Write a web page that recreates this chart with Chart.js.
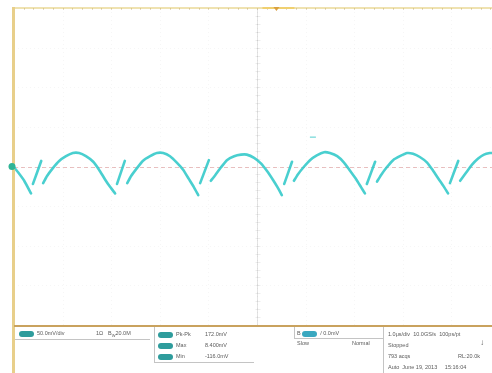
<!DOCTYPE html>
<html>
<head>
<meta charset="utf-8">
<script src="https://cdn.jsdelivr.net/npm/chart.js@4/dist/chart.umd.min.js"></script>
<style>
  html,body{margin:0;padding:0;background:#fff;}
  #wrap{position:relative;width:492px;height:373px;overflow:hidden;font-family:"Liberation Sans","DejaVu Sans",sans-serif;}
  canvas{position:absolute;left:0;top:0;filter:blur(0.35px);}
  .panel{position:absolute;color:#5a5a5a;font-size:5.5px;line-height:6px;white-space:nowrap;filter:blur(0.4px);}
  .pill{display:inline-block;width:15px;height:6px;border-radius:3px;background:#2e9c9c;vertical-align:middle;margin-right:3px;}
  .box{position:absolute;border-color:#c4c4c4;border-style:solid;border-width:0;}
</style>
</head>
<body>
<div id="wrap">
<canvas id="c" width="492" height="373"></canvas>

<!-- status panel -->
<div class="box" style="left:15px;top:327px;width:135px;height:12px;border-bottom-width:1px;"></div>
<div class="panel" style="left:19px;top:330px;"><span class="pill"></span>50.0mV/div</div>
<div class="panel" style="left:96px;top:330px;">1Ω</div>
<div class="panel" style="left:108px;top:330px;">B<sub style="font-size:4px">W</sub>20.0M</div>

<div class="box" style="left:154px;top:327px;width:99px;height:35px;border-left-width:1px;border-bottom-width:1px;"></div>
<div class="panel" style="left:158px;top:331px;"><span class="pill"></span>Pk-Pk</div>
<div class="panel" style="left:205px;top:331px;">172.0mV</div>
<div class="panel" style="left:158px;top:342px;"><span class="pill"></span>Max</div>
<div class="panel" style="left:205px;top:342px;">8.400mV</div>
<div class="panel" style="left:158px;top:353px;"><span class="pill"></span>Min</div>
<div class="panel" style="left:205px;top:353px;">-116.0mV</div>

<div class="box" style="left:294px;top:327px;width:88px;height:11px;border-left-width:1px;border-bottom-width:1px;"></div>
<div class="panel" style="left:297px;top:330px;">B <span class="pill" style="background:#3aa8c0"></span>/ 0.0mV</div>
<div class="panel" style="left:297px;top:340px;">Slow</div>
<div class="panel" style="left:352px;top:340px;">Normal</div>

<div class="box" style="left:383px;top:327px;width:109px;height:46px;border-left-width:1px;"></div>
<div class="panel" style="left:388px;top:331px;">1.0μs/div&nbsp;&nbsp;10.0GS/s&nbsp;&nbsp;100ps/pt</div>
<div class="panel" style="left:388px;top:342px;">Stopped</div>
<div class="panel" style="left:480px;top:340px;font-size:8px;">↓</div>
<div class="panel" style="left:388px;top:353px;">793 acqs</div>
<div class="panel" style="left:458px;top:353px;">RL:20.0k</div>
<div class="panel" style="left:388px;top:364px;">Auto&nbsp;&nbsp;June 19, 2013&nbsp;&nbsp;&nbsp;&nbsp;&nbsp;15:16:04</div>
</div>

<script>
// ---- data (time in μs, 1 μs/div; channel 1 in mV, 50 mV/div) ----
const timeUs = [
  0.00, 0.08, 0.21, 0.35,
  0.37, 0.39, 0.56, 0.58,
  0.60, 0.68, 0.80, 0.93, 1.07, 1.21, 1.34, 1.48, 1.63, 1.75, 1.87, 1.98, 2.08,
  2.10, 2.12, 2.28, 2.30,
  2.33, 2.41, 2.53, 2.65, 2.80, 2.94, 3.07, 3.21, 3.35, 3.48, 3.60, 3.70, 3.79,
  3.81, 3.83, 4.01, 4.03,
  4.05, 4.14, 4.26, 4.38, 4.53, 4.67, 4.79, 4.94, 5.08, 5.21, 5.33, 5.43, 5.51,
  5.53, 5.56, 5.72, 5.74,
  5.76, 5.84, 5.97, 6.09, 6.23, 6.38, 6.50, 6.65, 6.79, 6.91, 7.04, 7.14, 7.22,
  7.24, 7.26, 7.43, 7.45,
  7.47, 7.55, 7.67, 7.80, 7.94, 8.09, 8.21, 8.35, 8.50, 8.62, 8.74, 8.85, 8.93,
  8.95, 8.97, 9.14, 9.16,
  9.18, 9.30, 9.42, 9.55, 9.67, 9.79, 9.84
];
const ch1mV = [
  -1, -7, -18, -34,
  null, -22, 7, null,
  -21, -12, -2, 7, 13, 17, 17, 13, 6, -4, -16, -26, -34,
  null, -22, 7, null,
  -21, -12, -2, 7, 13, 17, 17, 13, 5, -4, -16, -26, -36,
  null, -21, 8, null,
  -18, -11, -1, 8, 13, 15, 15, 11, 4, -6, -17, -27, -36,
  null, -22, 6, null,
  -18, -10, 0, 8, 14, 18, 17, 13, 5, -5, -16, -26, -34,
  null, -22, 6, null,
  -19, -11, -1, 8, 13, 17, 16, 12, 5, -5, -16, -26, -34,
  null, -21, 7, null,
  -18, -8, 2, 10, 15, 17, 17
];
const xDivs = [0,1,2,3,4,5,6,7,8,9];
const yDivs = [-200,-150,-100,-50,0,50,100,150,200];
const centerDiv = 5;
const triggerPosUs = 5.4;
const cursorMark = {x: 6.15, y: 37};

const points = timeUs.map((t, i) => ({x: t, y: ch1mV[i]}));

const scopeDecor = {
  id: 'scopeDecor',
  beforeDatasetsDraw(chart) {
    const {ctx, chartArea: a, scales: {x, y}} = chart;
    ctx.save();
    ctx.strokeStyle = 'rgba(0,0,0,0.035)';
    ctx.lineWidth = 1;
    ctx.setLineDash([1, 3]);
    xDivs.forEach(d => {
      const px = Math.round(x.getPixelForValue(d)) + 0.5;
      ctx.beginPath(); ctx.moveTo(px, a.top); ctx.lineTo(px, a.bottom); ctx.stroke();
    });
    yDivs.forEach(d => {
      const py = Math.round(y.getPixelForValue(d)) + 0.5;
      ctx.beginPath(); ctx.moveTo(a.left, py); ctx.lineTo(a.right, py); ctx.stroke();
    });
    ctx.setLineDash([]);
    const cx = Math.round(x.getPixelForValue(centerDiv)) + 0.5;
    ctx.strokeStyle = 'rgba(0,0,0,0.11)';
    ctx.beginPath(); ctx.moveTo(cx, a.top); ctx.lineTo(cx, a.bottom); ctx.stroke();
    ctx.strokeStyle = 'rgba(0,0,0,0.07)';
    for (let v = -200; v <= 200; v += 10) {
      const py = Math.round(y.getPixelForValue(v)) + 0.5;
      ctx.beginPath(); ctx.moveTo(cx - 2, py); ctx.lineTo(cx + 3, py); ctx.stroke();
    }
    const zy = Math.round(y.getPixelForValue(0)) + 0.5;
    ctx.strokeStyle = 'rgba(215,140,140,0.55)';
    ctx.setLineDash([4, 3]);
    ctx.beginPath(); ctx.moveTo(a.left, zy); ctx.lineTo(a.right, zy); ctx.stroke();
    ctx.setLineDash([]);
    ctx.restore();
  },
  afterDraw(chart) {
    const {ctx, chartArea: a, scales: {x, y}} = chart;
    ctx.save();
    ctx.strokeStyle = '#efe2b0';
    ctx.lineWidth = 2;
    ctx.beginPath(); ctx.moveTo(a.left, a.top); ctx.lineTo(a.right, a.top); ctx.stroke();
    ctx.strokeStyle = 'rgba(180,150,80,0.35)';
    ctx.lineWidth = 1;
    for (let v = 0; v <= 9.84; v += 0.2) {
      const px = Math.round(x.getPixelForValue(v)) + 0.5;
      ctx.beginPath(); ctx.moveTo(px, a.top); ctx.lineTo(px, a.top + 2); ctx.stroke();
    }
    const tx = x.getPixelForValue(triggerPosUs);
    ctx.strokeStyle = '#f0d070';
    ctx.lineWidth = 2;
    ctx.beginPath(); ctx.moveTo(tx - 14, a.top); ctx.lineTo(tx + 18, a.top); ctx.stroke();
    ctx.fillStyle = '#d9a040';
    ctx.beginPath(); ctx.moveTo(tx - 3, a.top - 1); ctx.lineTo(tx + 3, a.top - 1); ctx.lineTo(tx, a.top + 3); ctx.closePath(); ctx.fill();
    ctx.strokeStyle = '#e8cf8a';
    ctx.lineWidth = 3;
    ctx.beginPath(); ctx.moveTo(a.left - 0.5, a.top - 1); ctx.lineTo(a.left - 0.5, chart.height); ctx.stroke();
    ctx.strokeStyle = '#c9a25e';
    ctx.lineWidth = 2;
    ctx.beginPath(); ctx.moveTo(a.left, a.bottom + 1); ctx.lineTo(a.right, a.bottom + 1); ctx.stroke();
    const zy = y.getPixelForValue(0);
    ctx.fillStyle = '#2fb596';
    ctx.beginPath(); ctx.arc(a.left - 2, zy, 3.5, 0, Math.PI * 2); ctx.fill();
    ctx.strokeStyle = 'rgba(60,200,200,0.6)';
    ctx.lineWidth = 1.5;
    const mx = x.getPixelForValue(cursorMark.x), my = y.getPixelForValue(cursorMark.y);
    ctx.beginPath(); ctx.moveTo(mx - 3, my); ctx.lineTo(mx + 3, my); ctx.stroke();
    ctx.restore();
  }
};

new Chart(document.getElementById('c'), {
  type: 'line',
  data: {
    datasets: [{
      data: points,
      borderColor: 'rgba(48,200,200,0.88)',
      borderWidth: 2.6,
      pointRadius: 0,
      tension: 0.15,
      spanGaps: false,
      borderJoinStyle: 'round',
      borderCapStyle: 'round'
    }]
  },
  options: {
    responsive: false,
    animation: false,
    devicePixelRatio: 1,
    layout: {padding: {left: 14, top: 8, right: 0, bottom: 48}},
    plugins: {legend: {display: false}, tooltip: {enabled: false}},
    scales: {
      x: {type: 'linear', min: 0, max: 9.835, display: false},
      y: {min: -200, max: 200, display: false}
    }
  },
  plugins: [scopeDecor]
});
</script>
</body>
</html>
